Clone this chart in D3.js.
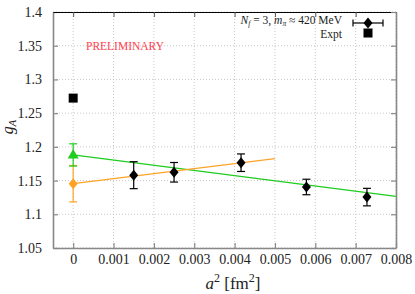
<!DOCTYPE html>
<html>
<head>
<meta charset="utf-8">
<script src="https://cdn.jsdelivr.net/npm/d3@7"></script>
<style>
body { margin: 0; background: #fff; }
svg text { font-family: "Liberation Serif", "DejaVu Serif", serif !important; }
</style>
</head>
<body>
<div id="chart"></div>
<script>
// lattice points (black diamonds)
var latA2 = [0.0015, 0.0025, 0.00416, 0.00578, 0.00728];
var latGA = [1.158, 1.1623, 1.1765, 1.1405, 1.1255];
var latErr = [0.020, 0.0145, 0.013, 0.0115, 0.013];

// continuum extrapolations at a^2 = 0
var greenPt = [0, 1.188, 0.0165];
var orangePt = [0, 1.1454, 0.027];
// fit lines: [x0, y0, x1, y1]
var greenFit = [0, 1.188, 0.008, 1.1267];
var orangeFit = [0, 1.1454, 0.005, 1.1824];

// experiment
var exptPt = [0, 1.2723];

var xTicks = [0, 0.001, 0.002, 0.003, 0.004, 0.005, 0.006, 0.007, 0.008];
var xLabels = ["0", "0.001", "0.002", "0.003", "0.004", "0.005", "0.006", "0.007", "0.008"];
var yTicks = [1.05, 1.1, 1.15, 1.2, 1.25, 1.3, 1.35, 1.4];
var yLabels = ["1.05", "1.1", "1.15", "1.2", "1.25", "1.3", "1.35", "1.4"];

function init() {
    var w = 415;
    var h = 294;
    var m = {left: 53, right: 19, top: 12, bottom: 46};
    var serif = "'Liberation Serif', 'DejaVu Serif', serif";

    var green = "#1fcc1f";
    var orange = "#ffa326";

    var svg = d3.select("#chart")
                .append("svg")
                .attr("width", w)
                .attr("height", h)
                .attr("font-family", serif);

    var x = d3.scaleLinear().domain([-0.0005, 0.008]).range([m.left, w - m.right]);
    var y = d3.scaleLinear().domain([1.05, 1.4]).range([h - m.bottom, m.top]);

    //grid
    svg.append("g").selectAll("line")
        .data(xTicks)
        .enter().append("line")
        .attr("x1", function(d){ return x(d); })
        .attr("x2", function(d){ return x(d); })
        .attr("y1", y(1.05)).attr("y2", y(1.4))
        .attr("stroke", "#bbb").attr("stroke-width", 0.8)
        .attr("stroke-dasharray", "1,2");
    svg.append("g").selectAll("line")
        .data(yTicks)
        .enter().append("line")
        .attr("y1", function(d){ return y(d); })
        .attr("y2", function(d){ return y(d); })
        .attr("x1", x(-0.0005)).attr("x2", x(0.008))
        .attr("stroke", "#bbb").attr("stroke-width", 0.8)
        .attr("stroke-dasharray", "1,2");

    //axes with inward ticks
    var xAxis = d3.axisBottom(x).tickValues(xTicks)
                    .tickFormat(function(d, i){ return xLabels[i]; })
                    .tickSizeInner(-5).tickSizeOuter(0).tickPadding(6);
    var yAxis = d3.axisLeft(y).tickValues(yTicks)
                    .tickFormat(function(d, i){ return yLabels[i]; })
                    .tickSizeInner(-5).tickSizeOuter(0).tickPadding(11);

    var gx = svg.append("g")
        .attr("transform", "translate(0," + y(1.05) + ")")
        .call(xAxis);
    var gy = svg.append("g")
        .attr("transform", "translate(" + x(-0.0005) + ",0)")
        .call(yAxis);
    //top and right ticks
    var gt = svg.append("g")
        .attr("transform", "translate(0," + y(1.4) + ")")
        .call(d3.axisTop(x).tickValues(xTicks).tickFormat("").tickSizeInner(-5).tickSizeOuter(0));
    var gr = svg.append("g")
        .attr("transform", "translate(" + x(0.008) + ",0)")
        .call(d3.axisRight(y).tickValues(yTicks).tickFormat("").tickSizeInner(-5).tickSizeOuter(0));

    [gx, gy, gt, gr].forEach(function(g){
        g.attr("font-family", serif).attr("font-size", 14);
    });
    [gx, gy, gr].forEach(function(g){
        g.select(".domain").attr("stroke", "#888").attr("stroke-width", 1.6);
        g.selectAll(".tick line").attr("stroke", "#888").attr("stroke-width", 1.2);
    });
    gt.select(".domain").attr("stroke", "#000").attr("stroke-width", 1.2);
    gt.selectAll(".tick line").attr("stroke", "#555").attr("stroke-width", 1);

    svg.selectAll(".tick text").attr("fill", "#222");

    //axis labels
    var xl = svg.append("text")
        .attr("x", 233).attr("y", 289)
        .attr("text-anchor", "middle")
        .attr("font-size", 17).attr("fill", "#222");
    xl.append("tspan").attr("font-style", "italic").text("a");
    xl.append("tspan").attr("dy", -7).attr("font-size", 12).text("2");
    xl.append("tspan").attr("dy", 7).text(" [fm");
    xl.append("tspan").attr("dy", -7).attr("font-size", 12).text("2");
    xl.append("tspan").attr("dy", 7).text("]");

    var yl = svg.append("text")
        .attr("transform", "translate(13,127) rotate(-90)")
        .attr("text-anchor", "middle")
        .attr("font-size", 16).attr("fill", "#222");
    yl.append("tspan").attr("font-style", "italic").text("g");
    yl.append("tspan").attr("dy", 3).attr("font-size", 11).attr("font-style", "italic").text("A");

    //PRELIMINARY
    svg.append("text")
        .attr("x", 86).attr("y", 50)
        .attr("font-size", 11.5)
        .attr("fill", "#ff4050")
        .text("PRELIMINARY");

    //fit lines
    svg.append("line")
        .attr("x1", x(greenFit[0])).attr("y1", y(greenFit[1]))
        .attr("x2", x(greenFit[2])).attr("y2", y(greenFit[3]))
        .attr("stroke", green).attr("stroke-width", 1.3);
    svg.append("line")
        .attr("x1", x(orangeFit[0])).attr("y1", y(orangeFit[1]))
        .attr("x2", x(orangeFit[2])).attr("y2", y(orangeFit[3]))
        .attr("stroke", orange).attr("stroke-width", 1.3);

    //error bar helper
    var errBar = function(cx, cy, e, col) {
        var g = svg.append("g").attr("stroke", col).attr("stroke-width", 1.2);
        g.append("line").attr("x1", x(cx)).attr("x2", x(cx)).attr("y1", y(cy - e)).attr("y2", y(cy + e));
        g.append("line").attr("x1", x(cx) - 4).attr("x2", x(cx) + 4).attr("y1", y(cy - e)).attr("y2", y(cy - e));
        g.append("line").attr("x1", x(cx) - 4).attr("x2", x(cx) + 4).attr("y1", y(cy + e)).attr("y2", y(cy + e));
    };
    var diamond = "M0,-5.5L4.5,0L0,5.5L-4.5,0Z";

    //lattice data
    for (var i = 0; i < latA2.length; i++) {
        errBar(latA2[i], latGA[i], latErr[i], "#000");
    }
    svg.append("g").selectAll("path")
        .data(latA2)
        .enter().append("path")
        .attr("d", diamond)
        .attr("transform", function(d, i){ return "translate(" + x(d) + "," + y(latGA[i]) + ")"; })
        .attr("fill", "#000");

    //orange point
    errBar(orangePt[0], orangePt[1], orangePt[2], orange);
    svg.append("path").attr("d", diamond)
        .attr("transform", "translate(" + x(orangePt[0]) + "," + y(orangePt[1]) + ")")
        .attr("fill", orange);

    //green triangle
    errBar(greenPt[0], greenPt[1], greenPt[2], green);
    svg.append("path").attr("d", "M0,-6L5.5,3.5L-5.5,3.5Z")
        .attr("transform", "translate(" + x(greenPt[0]) + "," + y(greenPt[1]) + ")")
        .attr("fill", green);

    //expt square
    svg.append("rect")
        .attr("x", x(exptPt[0]) - 4.5).attr("y", y(exptPt[1]) - 4.5)
        .attr("width", 9).attr("height", 9)
        .attr("fill", "#000");

    //legend
    var leg = svg.append("g");
    var t1 = leg.append("text").attr("x", 342).attr("y", 24)
        .attr("text-anchor", "end").attr("font-size", 11.5).attr("fill", "#222");
    t1.append("tspan").attr("font-style", "italic").text("N");
    t1.append("tspan").attr("dy", 2).attr("font-size", 7.5).attr("font-style", "italic").text("f");
    t1.append("tspan").attr("dy", -2).text(" = 3, ");
    t1.append("tspan").attr("font-style", "italic").text("m");
    t1.append("tspan").attr("dy", 2).attr("font-size", 7.5).attr("font-style", "italic").text("π");
    t1.append("tspan").attr("dy", -2).text(" ≈ 420 MeV");
    leg.append("text").attr("x", 342).attr("y", 38)
        .attr("text-anchor", "end").attr("font-size", 11.5).attr("fill", "#222")
        .text("Expt");

    var lg = leg.append("g").attr("stroke", "#000").attr("stroke-width", 1.2);
    lg.append("line").attr("x1", 353).attr("x2", 383).attr("y1", 23).attr("y2", 23);
    lg.append("line").attr("x1", 353).attr("x2", 353).attr("y1", 19.5).attr("y2", 26.5);
    lg.append("line").attr("x1", 383).attr("x2", 383).attr("y1", 19.5).attr("y2", 26.5);
    leg.append("path").attr("d", diamond).attr("transform", "translate(368,23)").attr("fill", "#000");
    leg.append("rect").attr("x", 363.5).attr("y", 28.5).attr("width", 9).attr("height", 9).attr("fill", "#000");
}

window.onload = init;
</script>
</body>
</html>
